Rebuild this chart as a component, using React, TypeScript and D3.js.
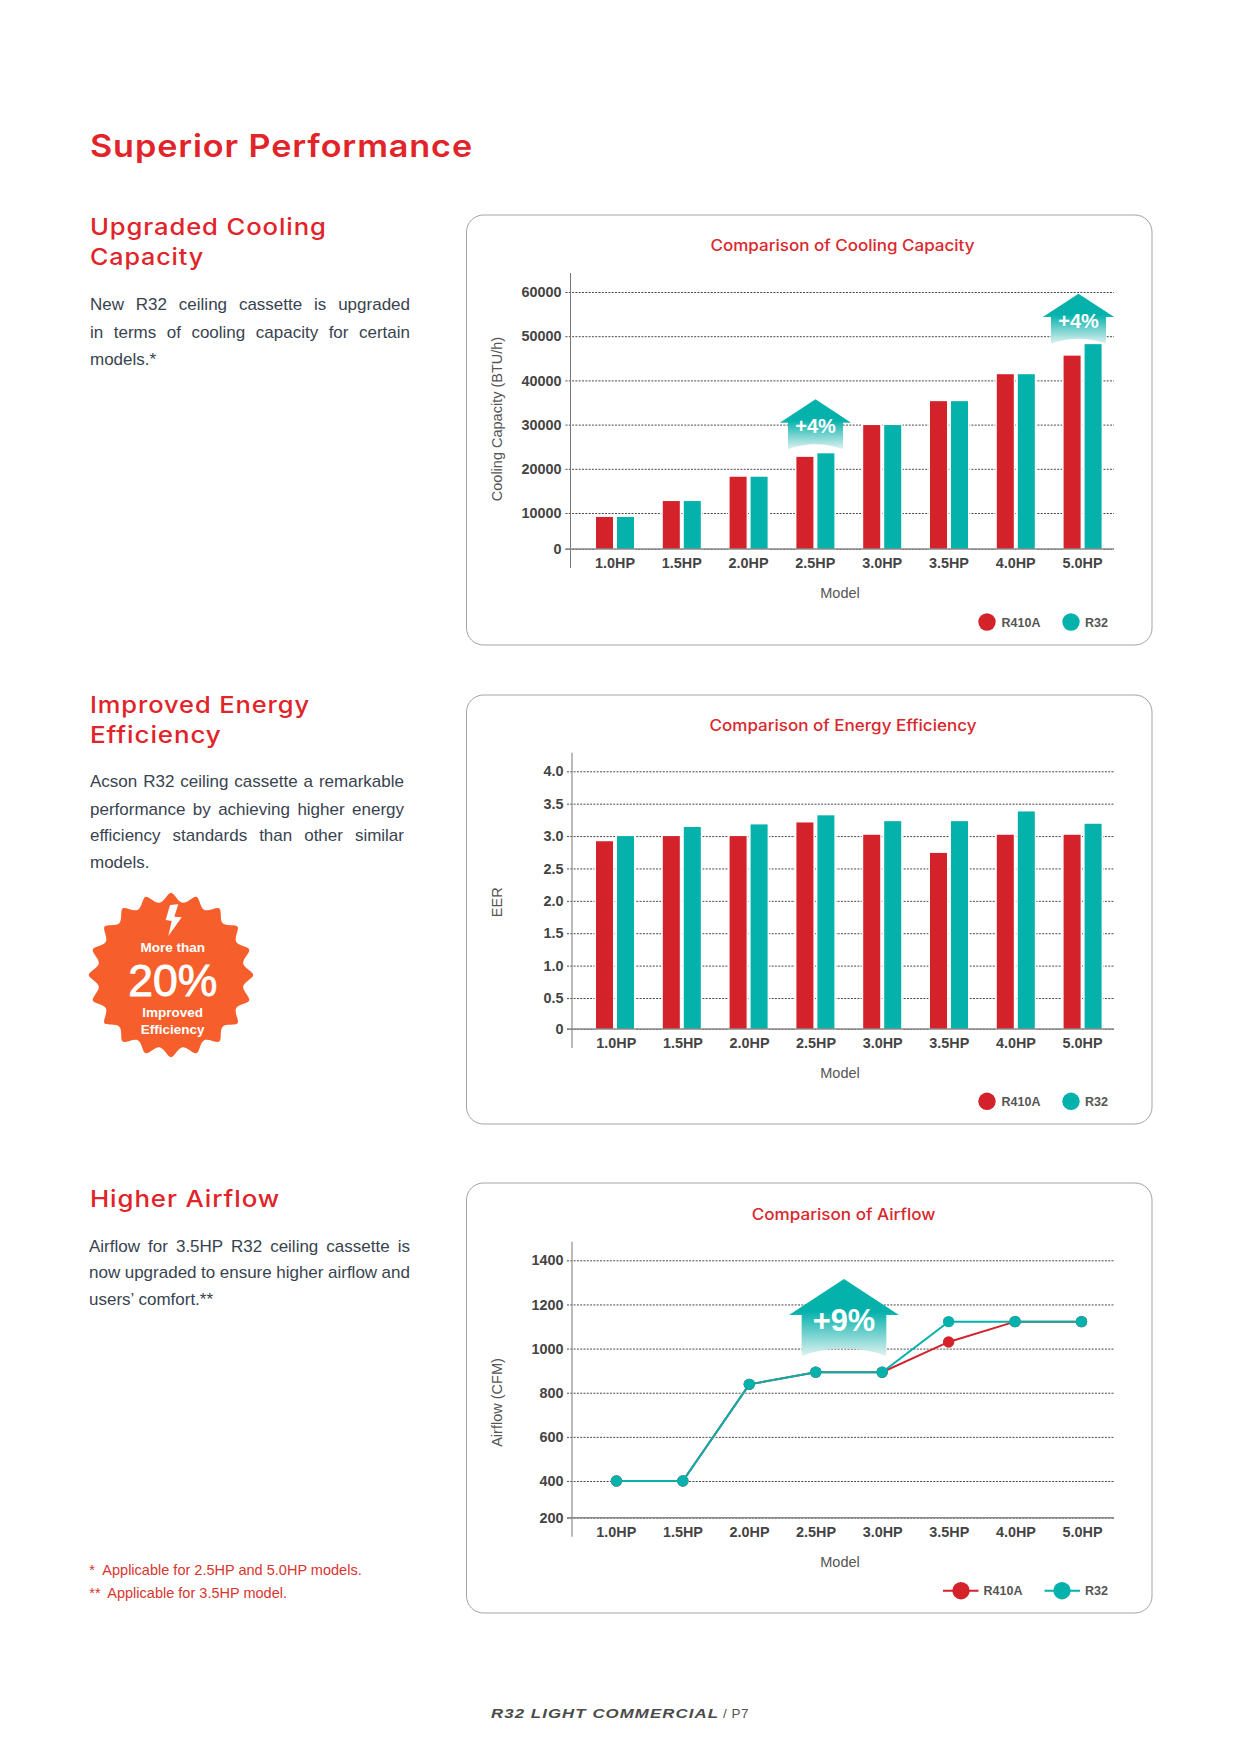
// App.tsx

import React, { useEffect, useRef } from "react";
import * as d3 from "d3";

const models = ["1.0HP", "1.5HP", "2.0HP", "2.5HP", "3.0HP", "3.5HP", "4.0HP", "5.0HP"];
const seriesNames = ["R410A", "R32"];

const coolingR410A = [8900, 12700, 18200, 22700, 29900, 35300, 41400, 45600];
const coolingR32 = [8900, 12700, 18200, 23500, 29900, 35300, 41400, 48200];
const coolingTicks = [0, 10000, 20000, 30000, 40000, 50000, 60000];

const eerR410A = [2.92, 3.0, 3.0, 3.21, 3.02, 2.74, 3.02, 3.02];
const eerR32 = [3.0, 3.14, 3.18, 3.32, 3.23, 3.23, 3.38, 3.19];
const eerTicks = [0, 0.5, 1, 1.5, 2, 2.5, 3, 3.5, 4];

const airflowR410A = [400, 400, 838, 893, 893, 1030, 1122, 1122];
const airflowR32 = [400, 400, 838, 893, 893, 1122, 1122, 1122];
const airflowTicks = [200, 400, 600, 800, 1000, 1200, 1400];

const RED = "#d32229";
const TEAL = "#04b1ab";
const HEAD_RED = "#e1232a";
const BODY = "#39434f";
const AXIS_TEXT = "#444";
const SANS = "'Liberation Sans', Arial, sans-serif";
const HEAD = "Inter, sans-serif";

const CARD_LEFT = 466.5;
const CARD_RIGHT = 1152;
const PLOT_RIGHT = 1114;

type Chart = {
  top: number;
  bottom: number;
  title: string;
  titleY: number;
  titleX: number;
  titleW: number;
  axisX: number;
  axisTop: number;
  axisBottom: number;
  tickRight: number;
  domain: number[];
  range: number[];
  ticks: number[];
  yLabel: string;
  yLabelY: number;
  labelY: number;
  modelY: number;
  legendY: number;
  labelRange: [number, number];
  fmt: (d: number) => string;
};

const drawFrame = (svg: any, c: Chart) => {
  const g = svg.append("g");

  g.append("rect")
    .attr("x", CARD_LEFT)
    .attr("y", c.top)
    .attr("width", CARD_RIGHT - CARD_LEFT)
    .attr("height", c.bottom - c.top)
    .attr("rx", 17)
    .attr("fill", "#fff")
    .attr("stroke", "#a3a3a3")
    .attr("stroke-width", 1);

  g.append("text")
    .attr("x", c.titleX)
    .attr("y", c.titleY)
    .attr("text-anchor", "middle")
    .attr("textLength", c.titleW)
    .attr("lengthAdjust", "spacingAndGlyphs")
    .attr("font-family", HEAD)
    .attr("font-weight", 500)
    .attr("font-size", 15.5)
    .attr("fill", "#d9282d")
    .text(c.title);

  const y = d3.scaleLinear().domain(c.domain).range(c.range);

  // grid lines come from the axis ticks
  const yAxis = g
    .append("g")
    .attr("transform", `translate(${c.axisX},0)`)
    .call(
      d3
        .axisLeft(y)
        .tickValues(c.ticks)
        .tickSize(-(PLOT_RIGHT - c.axisX))
        .tickPadding(c.axisX - c.tickRight)
        .tickFormat((d: any) => c.fmt(d))
    );
  yAxis.select(".domain").remove();
  yAxis
    .selectAll("line")
    .attr("x1", -5)
    .attr("stroke", "#4a4a4a")
    .attr("stroke-width", 1)
    .attr("stroke-dasharray", "2 1.3");
  yAxis
    .selectAll("text")
    .attr("font-family", SANS)
    .attr("font-weight", "bold")
    .attr("font-size", 14.4)
    .attr("fill", AXIS_TEXT);

  const labels = d3.scalePoint().domain(models).range(c.labelRange);
  const xAxis = g
    .append("g")
    .attr("transform", `translate(0,${c.range[0]})`)
    .call(d3.axisBottom(labels).tickSize(0).tickPadding(c.labelY - c.range[0] - 10.2));
  xAxis.select(".domain").remove();
  xAxis
    .selectAll("text")
    .attr("font-family", SANS)
    .attr("font-weight", "bold")
    .attr("font-size", 14.4)
    .attr("fill", AXIS_TEXT);

  g.append("text")
    .attr("x", 840)
    .attr("y", c.modelY)
    .attr("text-anchor", "middle")
    .attr("font-family", SANS)
    .attr("font-size", 14.5)
    .attr("fill", "#555")
    .text("Model");

  g.append("text")
    .attr("transform", `translate(502,${c.yLabelY}) rotate(-90)`)
    .attr("text-anchor", "middle")
    .attr("font-family", SANS)
    .attr("font-size", 14.5)
    .attr("fill", "#555")
    .text(c.yLabel);

  return y;
};

const drawAxisLines = (svg: any, c: Chart) => {
  svg
    .append("line")
    .attr("x1", c.axisX)
    .attr("x2", c.axisX)
    .attr("y1", c.axisTop)
    .attr("y2", c.axisBottom)
    .attr("stroke", "#777")
    .attr("stroke-width", 1);
  svg
    .append("line")
    .attr("x1", c.axisX - 5)
    .attr("x2", PLOT_RIGHT)
    .attr("y1", c.range[0])
    .attr("y2", c.range[0])
    .attr("stroke", "#8a8a8a")
    .attr("stroke-width", 1.5);
};

const drawBars = (svg: any, c: Chart, y: any, a: number[], b: number[]) => {
  const x0 = d3.scaleBand().domain(models).range([581.6, 1116]);
  const x1 = d3.scaleBand().domain(seriesNames).range([-19, 19]).paddingInner(0.19);
  const groupX = (m: string) => (x0(m) as number) + x0.bandwidth() / 2;

  [a, b].forEach((vals, si) => {
    svg
      .append("g")
      .selectAll("rect")
      .data(vals)
      .enter()
      .append("rect")
      .attr("x", (d: number, i: number) => groupX(models[i]) + (x1(seriesNames[si]) as number))
      .attr("y", (d: number) => y(d))
      .attr("width", x1.bandwidth())
      .attr("height", (d: number) => c.range[0] - y(d))
      .attr("fill", si === 0 ? RED : TEAL)
      .attr("stroke", "#fff")
      .attr("stroke-width", 3)
      .style("paint-order", "stroke");
  });
};

const drawBarLegend = (svg: any, c: Chart) => {
  const spots = [
    { cx: 987, tx: 1001.5 },
    { cx: 1071, tx: 1085 },
  ];
  seriesNames.forEach((name, i) => {
    svg
      .append("circle")
      .attr("cx", spots[i].cx)
      .attr("cy", c.legendY)
      .attr("r", 8.7)
      .attr("fill", i === 0 ? RED : TEAL);
    svg
      .append("text")
      .attr("x", spots[i].tx)
      .attr("y", c.legendY + 4.5)
      .attr("font-family", SANS)
      .attr("font-weight", "bold")
      .attr("font-size", 12.5)
      .attr("fill", "#555")
      .text(name);
  });
};

const drawLines = (svg: any, c: Chart, y: any, a: number[], b: number[]) => {
  const x = d3.scalePoint().domain(models).range([616.4, 1081.5]);
  const line = d3
    .line<number>()
    .x((d, i) => x(models[i]) as number)
    .y((d) => y(d));

  [a, b].forEach((vals, si) => {
    const color = si === 0 ? RED : TEAL;
    svg
      .append("path")
      .datum(vals)
      .attr("fill", "none")
      .attr("stroke", color)
      .attr("stroke-width", 2)
      .attr("d", line);
    svg
      .append("g")
      .selectAll("circle")
      .data(vals)
      .enter()
      .append("circle")
      .attr("cx", (d: number, i: number) => x(models[i]) as number)
      .attr("cy", (d: number) => y(d))
      .attr("r", 5.7)
      .attr("fill", color);
  });
};

const drawLineLegend = (svg: any, c: Chart) => {
  const spots = [
    { x1: 943, x2: 978.5, cx: 961, tx: 983.5 },
    { x1: 1044.5, x2: 1080, cx: 1062, tx: 1085 },
  ];
  seriesNames.forEach((name, i) => {
    const color = i === 0 ? RED : TEAL;
    svg
      .append("line")
      .attr("x1", spots[i].x1)
      .attr("x2", spots[i].x2)
      .attr("y1", c.legendY)
      .attr("y2", c.legendY)
      .attr("stroke", color)
      .attr("stroke-width", 2);
    svg
      .append("circle")
      .attr("cx", spots[i].cx)
      .attr("cy", c.legendY)
      .attr("r", 8.7)
      .attr("fill", color);
    svg
      .append("text")
      .attr("x", spots[i].tx)
      .attr("y", c.legendY + 4.5)
      .attr("font-family", SANS)
      .attr("font-weight", "bold")
      .attr("font-size", 12.5)
      .attr("fill", "#555")
      .text(name);
  });
};

// the "up" house shaped badge, sizes are for scale 1
const drawArrow = (svg: any, cx: number, top: number, scale: number, label: string, textY: number) => {
  const g = svg.append("g").attr("transform", `translate(${cx},${top}) scale(${scale})`);
  g.append("path")
    .attr(
      "d",
      "M0,0 L35.7,23.4 L27.5,23.4 L27.5,50 Q0,40 -27.5,50 L-27.5,23.4 L-35.7,23.4 Z"
    )
    .attr("fill", "url(#arrowFade)");
  g.append("text")
    .attr("x", 0)
    .attr("y", textY)
    .attr("text-anchor", "middle")
    .attr("font-family", SANS)
    .attr("font-weight", "bold")
    .attr("font-size", 20)
    .attr("fill", "#fff")
    .text(label);
};

const drawBadge = (svg: any) => {
  const cx = 171;
  const cy = 975;
  // basis curve pulls the points in, so the control radii sit wider than the real edge
  const pts: [number, number][] = d3.range(40).map((i) => [
    (i * Math.PI) / 20,
    i % 2 === 0 ? 91.5 : 64.5,
  ]);
  const shape = d3.lineRadial().curve(d3.curveBasisClosed);
  const g = svg.append("g").attr("transform", `translate(${cx},${cy})`);
  g.append("path").attr("d", shape(pts)).attr("fill", "#f65f2c");
  g.append("path")
    .attr("d", "M-1,-70 L7.3,-70.7 L3.3,-58.3 L10.7,-57.7 L-2.7,-39 L0.7,-54 L-5.3,-55 Z")
    .attr("fill", "#fff");

  const rows = [
    { t: "More than", y: -23.3, s: 13.5, w: "bold", sw: 0 },
    { t: "20%", y: 20.7, s: 44.5, w: "normal", sw: 0.9 },
    { t: "Improved", y: 42, s: 13.5, w: "bold", sw: 0 },
    { t: "Efficiency", y: 59, s: 13.5, w: "bold", sw: 0 },
  ];
  rows.forEach((r) => {
    g.append("text")
      .attr("x", 1.7)
      .attr("y", r.y)
      .attr("text-anchor", "middle")
      .attr("font-family", SANS)
      .attr("font-weight", r.w)
      .attr("font-size", r.s)
      .attr("fill", "#fff")
      .attr("stroke", "#fff")
      .attr("stroke-width", r.sw)
      .text(r.t);
  });
};

const heading = (svg: any, t: string, x: number, y: number, w: number, size: number, weight: number) => {
  svg
    .append("text")
    .attr("x", x)
    .attr("y", y)
    .attr("textLength", w)
    .attr("lengthAdjust", "spacingAndGlyphs")
    .attr("letter-spacing", 0.8)
    .attr("font-family", HEAD)
    .attr("font-weight", weight)
    .attr("font-size", size)
    .attr("fill", HEAD_RED)
    .text(t);
};

// right edge given -> stretch the spaces like justified text in the brochure
const bodyLine = (svg: any, t: string, x: number, y: number, right?: number) => {
  const el = svg
    .append("text")
    .attr("x", x)
    .attr("y", y)
    .attr("font-family", SANS)
    .attr("font-size", 17)
    .attr("fill", BODY)
    .text(t);
  if (right) {
    const len = el.node().getComputedTextLength();
    const gaps = t.split(" ").length - 1;
    el.attr("word-spacing", (right - x - len) / gaps);
  }
};

const footnote = (svg: any, mark: string, t: string, y: number, x: number, w: number) => {
  const g = svg
    .append("g")
    .attr("font-family", SANS)
    .attr("font-size", 14.5)
    .attr("fill", "#d8352e");
  g.append("text").attr("x", 89.3).attr("y", y).text(mark);
  g.append("text").attr("x", x).attr("y", y).attr("textLength", w).text(t);
};

const coolingChart: Chart = {
  top: 215,
  bottom: 645,
  title: "Comparison of Cooling Capacity",
  titleY: 250.7,
  titleX: 842.5,
  titleW: 264,
  axisX: 570.5,
  axisTop: 273,
  axisBottom: 568,
  tickRight: 561.5,
  domain: [0, 10000, 60000],
  range: [549, 513, 292],
  ticks: coolingTicks,
  yLabel: "Cooling Capacity (BTU/h)",
  yLabelY: 419,
  labelY: 568,
  modelY: 597.7,
  legendY: 622,
  labelRange: [614.5, 1082],
  fmt: (d) => String(d),
};

const eerChart: Chart = {
  top: 695,
  bottom: 1124,
  title: "Comparison of Energy Efficiency",
  titleY: 730.7,
  titleX: 843,
  titleW: 267,
  axisX: 572,
  axisTop: 752.7,
  axisBottom: 1048,
  tickRight: 563.4,
  domain: [0, 0.5, 4],
  range: [1029, 998, 771.3],
  ticks: eerTicks,
  yLabel: "EER",
  yLabelY: 902.3,
  labelY: 1048,
  modelY: 1077.7,
  legendY: 1101.3,
  labelRange: [615.8, 1082],
  fmt: (d) => (d === 0 ? "0" : d.toFixed(1)),
};

const airflowChart: Chart = {
  top: 1183,
  bottom: 1613,
  title: "Comparison of Airflow",
  titleY: 1219.5,
  titleX: 843.6,
  titleW: 183.7,
  axisX: 572,
  axisTop: 1241.7,
  axisBottom: 1536.7,
  tickRight: 563.4,
  domain: [200, 400, 1400],
  range: [1517.7, 1481, 1260.3],
  ticks: airflowTicks,
  yLabel: "Airflow (CFM)",
  yLabelY: 1402.5,
  labelY: 1537,
  modelY: 1566.7,
  legendY: 1590.7,
  labelRange: [615.8, 1082],
  fmt: (d) => String(d),
};

const App: React.FC = () => {
  const ref = useRef<SVGSVGElement>(null);

  useEffect(() => {
    const svg = d3.select(ref.current);
    svg.selectAll("*").remove();

    const grad = svg
      .append("defs")
      .append("linearGradient")
      .attr("id", "arrowFade")
      .attr("x1", 0)
      .attr("x2", 0)
      .attr("y1", 0)
      .attr("y2", 1);
    grad.append("stop").attr("offset", "42%").attr("stop-color", TEAL);
    grad.append("stop").attr("offset", "100%").attr("stop-color", "#dff2f1");

    heading(svg, "Superior Performance", 90, 156.7, 383, 31, 600);

    heading(svg, "Upgraded Cooling", 90, 235, 236.7, 23, 500);
    heading(svg, "Capacity", 90, 265, 114, 23, 500);
    bodyLine(svg, "New R32 ceiling cassette is upgraded", 90, 310, 410);
    bodyLine(svg, "in terms of cooling capacity for certain", 90, 337.7, 410);
    bodyLine(svg, "models.*", 90, 365);

    heading(svg, "Improved Energy", 90, 713.3, 220, 23, 500);
    heading(svg, "Efficiency", 90, 743.3, 131.7, 23, 500);
    bodyLine(svg, "Acson R32 ceiling cassette a remarkable", 90, 787.3, 404);
    bodyLine(svg, "performance by achieving higher energy", 90, 814.7, 404);
    bodyLine(svg, "efficiency standards than other similar", 90, 841.3, 404);
    bodyLine(svg, "models.", 90, 868.3);
    drawBadge(svg);

    heading(svg, "Higher Airflow", 90, 1207.3, 190, 23, 500);
    bodyLine(svg, "Airflow for 3.5HP R32 ceiling cassette is", 89, 1251.7, 410);
    bodyLine(svg, "now upgraded to ensure higher airflow and", 89, 1278.3, 410);
    bodyLine(svg, "users\u2019 comfort.**", 89, 1305);

    footnote(svg, "*", "Applicable for 2.5HP and 5.0HP models.", 1575, 102.3, 259.4);
    footnote(svg, "**", "Applicable for 3.5HP model.", 1597.7, 107.3, 179.7);

    const yCool = drawFrame(svg, coolingChart);
    drawArrow(svg, 815.5, 399.3, 1, "+4%", 33.7);
    drawArrow(svg, 1078.5, 293.7, 1, "+4%", 34.5);
    drawBars(svg, coolingChart, yCool, coolingR410A, coolingR32);
    drawAxisLines(svg, coolingChart);
    drawBarLegend(svg, coolingChart);

    const yEer = drawFrame(svg, eerChart);
    drawBars(svg, eerChart, yEer, eerR410A, eerR32);
    drawAxisLines(svg, eerChart);
    drawBarLegend(svg, eerChart);

    const yAir = drawFrame(svg, airflowChart);
    drawArrow(svg, 844, 1279, 1.54, "+9%", 33.7);
    drawLines(svg, airflowChart, yAir, airflowR410A, airflowR32);
    drawAxisLines(svg, airflowChart);
    drawLineLegend(svg, airflowChart);

    svg
      .append("text")
      .attr("x", 491)
      .attr("y", 1717.7)
      .attr("textLength", 228)
      .attr("lengthAdjust", "spacingAndGlyphs")
      .attr("letter-spacing", 0.8)
      .attr("font-family", SANS)
      .attr("font-weight", "bold")
      .attr("font-style", "italic")
      .attr("font-size", 12.5)
      .attr("fill", "#4a4a4a")
      .text("R32 LIGHT COMMERCIAL");
    svg
      .append("text")
      .attr("x", 723)
      .attr("y", 1717.7)
      .attr("textLength", 25.5)
      .attr("font-family", SANS)
      .attr("font-size", 13.5)
      .attr("fill", "#555")
      .text("/ P7");
  }, []);

  return (
    <svg
      ref={ref}
      width={1241}
      height={1754}
      style={{ position: "absolute", left: 0, top: 0, background: "#fff" }}
    />
  );
};

export default App;
